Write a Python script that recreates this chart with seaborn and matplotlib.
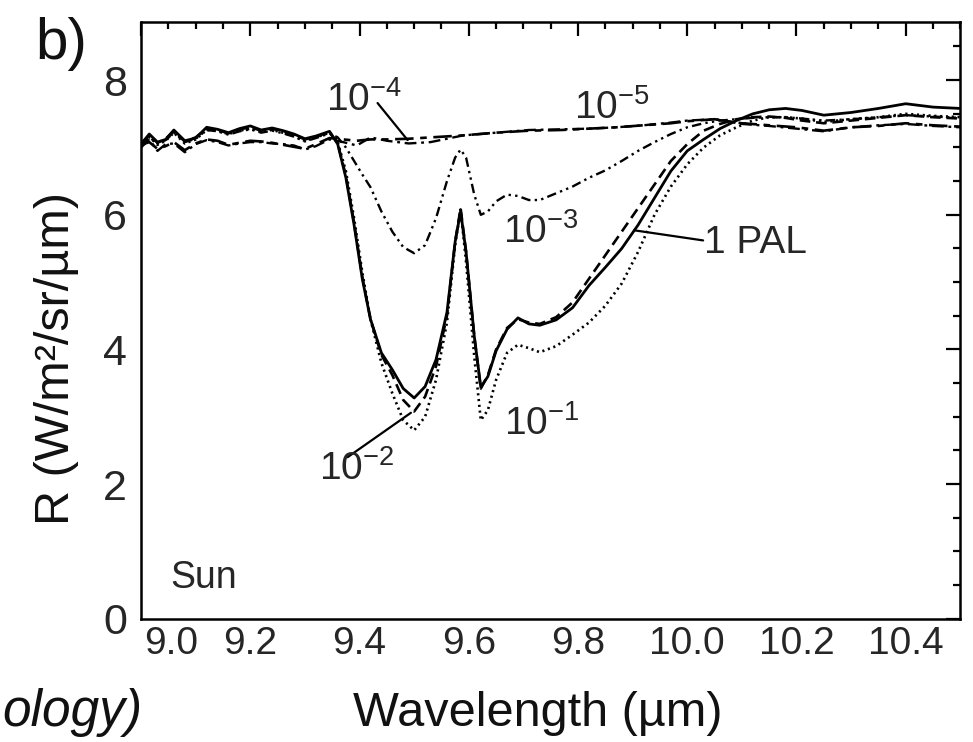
import numpy as np
import pandas as pd
import seaborn as sns
import matplotlib.pyplot as plt
import matplotlib.transforms as mtransforms
from matplotlib import font_manager
from matplotlib.ticker import MultipleLocator

# wavelength grid (um) shared by the strongly absorbing curves
wl_main = [9.00, 9.015, 9.03, 9.045, 9.06, 9.08, 9.10, 9.12, 9.14, 9.16, 9.18, 9.20,
           9.22, 9.24, 9.26, 9.28, 9.30, 9.32, 9.345, 9.36, 9.375, 9.39, 9.405, 9.42,
           9.44, 9.46, 9.48, 9.50, 9.52, 9.54, 9.56, 9.575, 9.585, 9.595, 9.61, 9.622,
           9.635, 9.65, 9.67, 9.69, 9.71, 9.73, 9.76, 9.79, 9.82, 9.85, 9.88, 9.91,
           9.94, 9.97, 10.00, 10.03, 10.06, 10.09, 10.12, 10.15, 10.18, 10.21, 10.25,
           10.30, 10.35, 10.40, 10.45, 10.50]

r_1pal = [7.05, 7.20, 7.08, 7.12, 7.26, 7.10, 7.14, 7.30, 7.27, 7.22, 7.28, 7.32,
          7.26, 7.29, 7.25, 7.20, 7.13, 7.17, 7.24, 7.05, 6.55, 5.85, 5.05, 4.45,
          3.95, 3.70, 3.42, 3.28, 3.45, 3.85, 4.55, 5.60, 6.05, 5.45, 4.20, 3.44,
          3.60, 3.98, 4.30, 4.47, 4.38, 4.36, 4.44, 4.62, 4.95, 5.22, 5.50, 5.85,
          6.25, 6.65, 6.95, 7.12, 7.28, 7.40, 7.50, 7.56, 7.58, 7.55, 7.48,
          7.52, 7.58, 7.65, 7.60, 7.58]

r_1e1 = [7.02, 7.16, 7.04, 7.10, 7.22, 7.06, 7.12, 7.26, 7.25, 7.20, 7.25, 7.28,
         7.24, 7.26, 7.22, 7.17, 7.10, 7.15, 7.22, 7.08, 6.65, 5.95, 5.15, 4.45,
         3.80, 3.35, 2.95, 2.80, 3.00, 3.55, 4.40, 5.55, 6.08, 5.30, 3.90, 2.95,
         3.10, 3.55, 3.95, 4.07, 4.02, 3.96, 4.05, 4.22, 4.40, 4.65, 4.98, 5.45,
         6.00, 6.42, 6.75, 7.00, 7.18, 7.30, 7.40, 7.45, 7.45, 7.43, 7.38,
         7.42, 7.45, 7.50, 7.47, 7.45]

r_1e2 = [7.06, 7.18, 7.07, 7.13, 7.24, 7.09, 7.15, 7.28, 7.26, 7.21, 7.27, 7.30,
         7.25, 7.28, 7.24, 7.19, 7.12, 7.16, 7.23, 7.06, 6.58, 5.88, 5.08, 4.45,
         3.92, 3.62, 3.25, 3.08, 3.30, 3.75, 4.50, 5.60, 6.10, 5.45, 4.20, 3.42,
         3.62, 4.00, 4.32, 4.45, 4.40, 4.38, 4.48, 4.70, 5.05, 5.40, 5.75, 6.10,
         6.45, 6.80, 7.05, 7.25, 7.35, 7.42, 7.45, 7.46, 7.44, 7.40, 7.36,
         7.40, 7.44, 7.48, 7.45, 7.43]

r_1e3 = [7.04, 7.15, 7.06, 7.11, 7.22, 7.08, 7.13, 7.26, 7.24, 7.19, 7.24, 7.27,
         7.22, 7.25, 7.21, 7.16, 7.09, 7.14, 7.21, 7.15, 7.00, 6.80, 6.60, 6.41,
         6.05, 5.75, 5.52, 5.43, 5.55, 5.95, 6.50, 6.85, 6.97, 6.85, 6.30, 6.00,
         6.05, 6.20, 6.30, 6.28, 6.22, 6.22, 6.32, 6.42, 6.55, 6.66, 6.80, 6.95,
         7.08, 7.20, 7.30, 7.36, 7.40, 7.42, 7.44, 7.45, 7.45, 7.43, 7.40,
         7.42, 7.45, 7.48, 7.46, 7.44]

# weakly absorbing curves (10^-4 and 10^-5 PAL)
wl_weak = [9.00, 9.015, 9.03, 9.045, 9.06, 9.08, 9.10, 9.12, 9.14, 9.16, 9.18, 9.20,
           9.22, 9.24, 9.26, 9.28, 9.30, 9.32, 9.345, 9.37, 9.395, 9.42, 9.45, 9.49,
           9.53, 9.59, 9.65, 9.71, 9.77, 9.82, 9.87, 9.92, 9.97, 10.00, 10.05,
           10.10, 10.15, 10.20, 10.25, 10.30, 10.35, 10.40, 10.45, 10.50]

r_1e4 = [7.00, 7.12, 6.95, 7.05, 7.06, 6.93, 7.05, 7.11, 7.08, 7.03, 7.06, 7.08,
         7.08, 7.06, 7.05, 7.03, 6.97, 7.02, 7.12, 7.08, 7.03, 7.15, 7.10, 7.06,
         7.08, 7.18, 7.22, 7.26, 7.27, 7.28, 7.30, 7.33, 7.37, 7.40, 7.42,
         7.35, 7.32, 7.28, 7.24, 7.30, 7.33, 7.35, 7.32, 7.30]

r_1e5 = [7.04, 7.08, 6.98, 7.02, 7.08, 6.96, 7.06, 7.12, 7.10, 7.04, 7.07, 7.10,
         7.09, 7.07, 7.04, 7.01, 6.98, 7.05, 7.14, 7.12, 7.10, 7.12, 7.12, 7.13,
         7.15, 7.18, 7.22, 7.25, 7.26, 7.28, 7.30, 7.33, 7.36, 7.39, 7.42,
         7.36, 7.33, 7.30, 7.25, 7.30, 7.32, 7.36, 7.33, 7.31]

series_names = ["1 PAL", "1e-1", "1e-2", "1e-3", "1e-4", "1e-5"]

x_ticks = [9.0, 9.2, 9.4, 9.6, 9.8, 10.0, 10.2, 10.4]
x_ticklabels = ["9.0", "9.2", "9.4", "9.6", "9.8", "10.0", "10.2", "10.4"]


def main():
    frames = []
    for name, wl, r in [("1 PAL", wl_main, r_1pal), ("1e-1", wl_main, r_1e1),
                        ("1e-2", wl_main, r_1e2), ("1e-3", wl_main, r_1e3),
                        ("1e-4", wl_weak, r_1e4), ("1e-5", wl_weak, r_1e5)]:
        frames.append(pd.DataFrame({"wl": wl, "R": r, "series": name}))
    df = pd.concat(frames, ignore_index=True)

    sns.set_theme(style="white")
    plt.rcParams["font.family"] = ["Liberation Sans", "DejaVu Sans"]
    plt.rcParams["mathtext.fontset"] = "custom"
    plt.rcParams["mathtext.rm"] = "Liberation Sans"
    plt.rcParams["mathtext.it"] = "Liberation Sans:italic"
    plt.rcParams["mathtext.default"] = "rm"

    # narrow face for the wavelength tick labels if one is installed
    names = {f.name for f in font_manager.fontManager.ttflist}
    if "Liberation Sans Narrow" in names:
        xtick_font, xtick_size = "Liberation Sans Narrow", 32
    else:
        xtick_font, xtick_size = "Liberation Sans", 28

    fig = plt.figure(figsize=(9.73, 7.42), dpi=100)
    ax = fig.add_axes([0.145, 0.166, 0.842, 0.804])

    styles = {
        "1 PAL": dict(linestyle="-", lw=2.0),
        "1e-1": dict(linestyle=(0, (0.8, 1.4)), lw=1.9),
        "1e-2": dict(linestyle=(0, (4.0, 2.2)), lw=1.9),
        "1e-3": dict(linestyle=(0, (4.0, 1.8, 1.0, 1.8, 1.0, 1.8)), lw=1.7),
        "1e-4": dict(linestyle=(0, (5.0, 2.0, 1.2, 2.0)), lw=1.7),
        "1e-5": dict(linestyle=(0, (7.0, 2.5, 2.5, 2.5)), lw=1.9),
    }
    for name in series_names:
        sub = df[df["series"] == name]
        sns.lineplot(data=sub, x="wl", y="R", ax=ax, color="black",
                     estimator=None, sort=False, legend=False, **styles[name])

    ax.set_xlim(9.0, 10.5)
    ax.set_ylim(0, 8.86)
    # the 9.0 label is drawn separately, shifted off the corner
    ax.set_xticks(x_ticks, [""] + x_ticklabels[1:],
                  fontfamily=xtick_font, fontsize=xtick_size)
    ax.xaxis.set_minor_locator(MultipleLocator(0.05))
    ax.yaxis.set_major_locator(MultipleLocator(2))
    ax.yaxis.set_minor_locator(MultipleLocator(0.5))
    ax.tick_params(which="both", direction="in", top=True, right=True,
                   color="black", width=1.6)
    ax.tick_params(which="major", length=10)
    ax.tick_params(which="minor", length=5)
    ax.tick_params(axis="x", which="major", pad=5)
    ax.tick_params(axis="y", which="major", pad=10, labelsize=31)

    shift = mtransforms.ScaledTranslation(0.30, -5 / 72, fig.dpi_scale_trans)
    ax.text(x_ticks[0], 0, x_ticklabels[0], transform=ax.get_xaxis_transform() + shift,
            ha="center", va="top", fontfamily=xtick_font, fontsize=xtick_size,
            color=ax.xaxis.get_ticklabels()[1].get_color())

    for s in ax.spines.values():
        s.set_color("black")
        s.set_linewidth(1.8)

    ax.set_xlabel("")
    ax.set_ylabel("")
    fig.text(0.553, 0.022, "Wavelength (\u00b5m)", ha="center", va="baseline",
             fontsize=35, color="#111111")
    fig.text(0.058, 0.517, "R (W/m\u00b2/sr/\u00b5m)", ha="center", va="center",
             rotation=90, fontsize=35, color="#111111")
    fig.text(0.036, 0.92, "b)", ha="left", va="baseline", fontsize=42, color="#111111")
    fig.text(0.002, 0.022, "ology)", ha="left", va="baseline", fontsize=37,
             style="italic", color="#111111")

    # curve labels and leader lines
    fs = 28
    ax.text(9.338, 7.55, "10$^{-4}$", fontsize=fs, va="baseline")
    ax.plot([9.433, 9.488], [7.66, 7.11], color="black", lw=1.6)
    ax.text(9.793, 7.43, "10$^{-5}$", fontsize=fs, va="baseline")
    ax.text(9.662, 5.59, "10$^{-3}$", fontsize=fs, va="baseline")
    ax.text(9.664, 2.73, "10$^{-1}$", fontsize=fs, va="baseline")
    ax.text(9.325, 2.06, "10$^{-2}$", fontsize=fs, va="baseline")
    ax.plot([9.378, 9.494], [2.40, 3.06], color="black", lw=1.6)
    ax.text(10.031, 5.43, "1 PAL", fontsize=fs, va="baseline")
    ax.plot([9.903, 10.029], [5.77, 5.62], color="black", lw=1.6)
    ax.text(9.053, 0.46, "Sun", fontsize=27, va="baseline")

    fig.savefig("out.png", dpi=100)


if __name__ == "__main__":
    main()
